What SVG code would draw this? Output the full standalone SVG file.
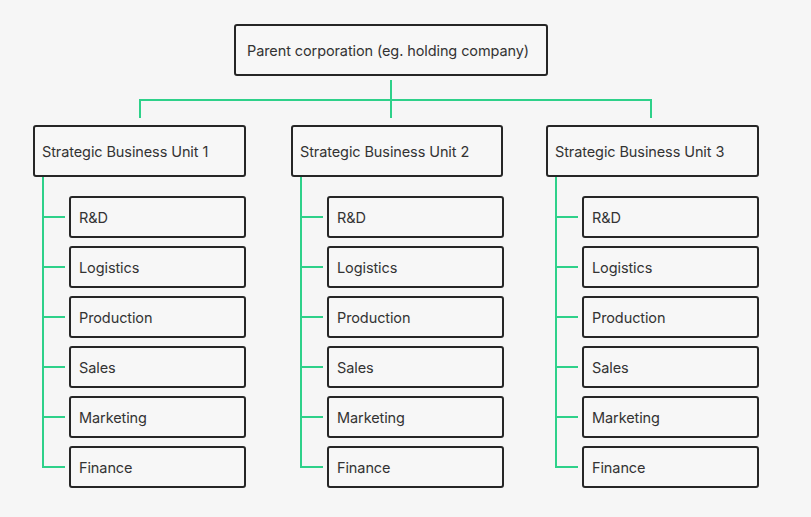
<svg xmlns="http://www.w3.org/2000/svg" width="811" height="517" viewBox="0 0 811 517">
<style>
.box{fill:#f7f7f7;stroke:#262626;stroke-width:2}
.t{font-family:Inter,"Liberation Sans",sans-serif;font-size:14.5px;fill:#333;letter-spacing:-0.1px}
.c{fill:none;stroke:#2ed18a;stroke-width:2}
</style>
<rect width="811" height="517" fill="#f6f6f6"/>
<g id="connectors" class="c">
<path d="M391 80V118M140 118V100H651V118"/>
<path d="M43 176V467H65M43 217H65M43 267H65M43 317H65M43 367H65M43 417H65"/>
<path d="M301 176V467H323M301 217H323M301 267H323M301 317H323M301 367H323M301 417H323"/>
<path d="M556 176V467H578M556 217H578M556 267H578M556 317H578M556 367H578M556 417H578"/>
</g>
<g id="parent"><rect class="box" x="235" y="25" width="312" height="50" rx="2"/><text class="t" x="247" y="56">Parent corporation (eg. holding company)</text></g>
<g id="sbu1"><rect class="box" x="34" y="126" width="211" height="50" rx="2"/><text class="t" x="42" y="157">Strategic Business Unit 1</text></g>
<g id="sbu2"><rect class="box" x="292" y="126" width="210" height="50" rx="2"/><text class="t" x="300" y="157">Strategic Business Unit 2</text></g>
<g id="sbu3"><rect class="box" x="547" y="126" width="211" height="50" rx="2"/><text class="t" x="555" y="157">Strategic Business Unit 3</text></g>
<g id="s1-rd"><rect class="box" x="70" y="197" width="175" height="40" rx="2"/><text class="t" x="79" y="223">R&amp;D</text></g>
<g id="s1-log"><rect class="box" x="70" y="247" width="175" height="40" rx="2"/><text class="t" x="79" y="273">Logistics</text></g>
<g id="s1-prod"><rect class="box" x="70" y="297" width="175" height="40" rx="2"/><text class="t" x="79" y="323">Production</text></g>
<g id="s1-sales"><rect class="box" x="70" y="347" width="175" height="40" rx="2"/><text class="t" x="79" y="373">Sales</text></g>
<g id="s1-mkt"><rect class="box" x="70" y="397" width="175" height="40" rx="2"/><text class="t" x="79" y="423">Marketing</text></g>
<g id="s1-fin"><rect class="box" x="70" y="447" width="175" height="40" rx="2"/><text class="t" x="79" y="473">Finance</text></g>
<g id="s2-rd"><rect class="box" x="328" y="197" width="175" height="40" rx="2"/><text class="t" x="337" y="223">R&amp;D</text></g>
<g id="s2-log"><rect class="box" x="328" y="247" width="175" height="40" rx="2"/><text class="t" x="337" y="273">Logistics</text></g>
<g id="s2-prod"><rect class="box" x="328" y="297" width="175" height="40" rx="2"/><text class="t" x="337" y="323">Production</text></g>
<g id="s2-sales"><rect class="box" x="328" y="347" width="175" height="40" rx="2"/><text class="t" x="337" y="373">Sales</text></g>
<g id="s2-mkt"><rect class="box" x="328" y="397" width="175" height="40" rx="2"/><text class="t" x="337" y="423">Marketing</text></g>
<g id="s2-fin"><rect class="box" x="328" y="447" width="175" height="40" rx="2"/><text class="t" x="337" y="473">Finance</text></g>
<g id="s3-rd"><rect class="box" x="583" y="197" width="175" height="40" rx="2"/><text class="t" x="592" y="223">R&amp;D</text></g>
<g id="s3-log"><rect class="box" x="583" y="247" width="175" height="40" rx="2"/><text class="t" x="592" y="273">Logistics</text></g>
<g id="s3-prod"><rect class="box" x="583" y="297" width="175" height="40" rx="2"/><text class="t" x="592" y="323">Production</text></g>
<g id="s3-sales"><rect class="box" x="583" y="347" width="175" height="40" rx="2"/><text class="t" x="592" y="373">Sales</text></g>
<g id="s3-mkt"><rect class="box" x="583" y="397" width="175" height="40" rx="2"/><text class="t" x="592" y="423">Marketing</text></g>
<g id="s3-fin"><rect class="box" x="583" y="447" width="175" height="40" rx="2"/><text class="t" x="592" y="473">Finance</text></g>
</svg>
